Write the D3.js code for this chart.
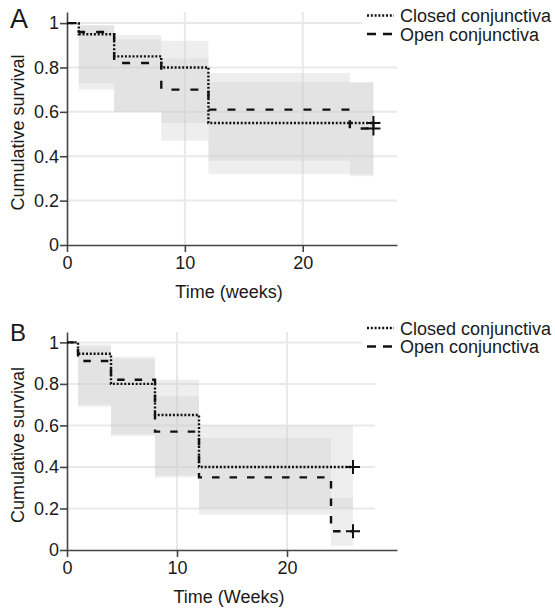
<!DOCTYPE html>
<html>
<head>
<meta charset="utf-8">
<script src="https://cdn.jsdelivr.net/npm/d3@7"></script>
<style>
  body { margin: 0; background: #fff; }
  text { font-family: "Liberation Sans", Arial, sans-serif; fill: #1a1a1a; }
</style>
</head>
<body>
<script>
// step times (weeks), shared by both panels
var timesA = [0, 1, 4, 8, 12, 24, 26];
var timesB = [0, 1, 4, 8, 12, 24, 26];

// panel A: survival estimates
var closedA = [1, 0.95, 0.85, 0.80, 0.55, 0.55, 0.55];
var openA = [1, 0.96, 0.82, 0.70, 0.61, 0.525, 0.525];
// panel A: confidence bands per interval (index i -> times[i]..times[i+1])
var closedLowA = [null, 0.70, 0.60, 0.55, 0.32, 0.32];
var closedHighA = [null, 0.99, 0.946, 0.92, 0.735, 0.735];
var openLowA = [null, 0.73, 0.60, 0.47, 0.38, 0.31];
var openHighA = [null, 0.99, 0.927, 0.84, 0.775, 0.73];

// panel B
var closedB = [1, 0.945, 0.80, 0.65, 0.40, 0.40, 0.40];
var openB = [1, 0.91, 0.82, 0.57, 0.35, 0.09, 0.09];
var closedLowB = [null, 0.70, 0.56, 0.36, 0.20, 0.20];
var closedHighB = [null, 0.99, 0.93, 0.82, 0.60, 0.60];
var openLowB = [null, 0.69, 0.55, 0.35, 0.17, 0.02];
var openHighB = [null, 0.98, 0.92, 0.74, 0.54, 0.25];

var yTicks = [0, 0.2, 0.4, 0.6, 0.8, 1];
var xTicks = [0, 10, 20];
var legendLabels = ["Closed conjunctiva", "Open conjunctiva"];

var dotted = "2,1.8";

var svg = d3.select("body").append("svg").attr("width", 555).attr("height", 610);

function panel(o) {
  var x = d3.scaleLinear().domain([0, o.xMax]).range([67, 397]);
  var y = d3.scaleLinear().domain([0, 1.05]).range([o.bottom, o.top]);
  var g = svg.append("g");

  // grid
  g.selectAll(".hg").data(yTicks.slice(1)).enter().append("line")
    .attr("x1", x(0)).attr("x2", x(o.gridMax))
    .attr("y1", function (d) { return y(d); }).attr("y2", function (d) { return y(d); })
    .attr("stroke", "#e9e9e9").attr("stroke-width", 2);
  g.selectAll(".vg").data(xTicks.slice(1)).enter().append("line")
    .attr("x1", function (d) { return x(d); }).attr("x2", function (d) { return x(d); })
    .attr("y1", y(0)).attr("y2", y(1.05))
    .attr("stroke", "#e9e9e9").attr("stroke-width", 2);

  // confidence bands
  [[o.cLow, o.cHigh], [o.oLow, o.oHigh]].forEach(function (b) {
    for (var i = 1; i < o.times.length - 1; i++) {
      g.append("rect")
        .attr("x", x(o.times[i])).attr("width", x(o.times[i + 1]) - x(o.times[i]))
        .attr("y", y(b[1][i])).attr("height", y(b[0][i]) - y(b[1][i]))
        .attr("fill", "#cdcdcd").attr("fill-opacity", 0.34);
    }
  });

  // legend background (hides top gridline)
  g.append("rect").attr("x", 362).attr("y", o.legY - 20).attr("width", 193).attr("height", 40).attr("fill", "#fff");

  // axes
  var ya = g.append("g").attr("transform", "translate(" + x(0) + ",0)")
    .call(d3.axisLeft(y).tickValues(yTicks).tickSize(7).tickPadding(1).tickSizeOuter(0)
      .tickFormat(function (d) { return String(d); }));
  var xa = g.append("g").attr("transform", "translate(0," + y(0) + ")")
    .call(d3.axisBottom(x).tickValues(xTicks).tickSize(7).tickPadding(4).tickSizeOuter(0));
  [ya, xa].forEach(function (a) {
    a.selectAll("path,line").attr("stroke", "#444").attr("stroke-width", 1.6);
    a.selectAll("text").style("font-size", "18px").attr("fill", "#1a1a1a")
      .style("font-family", "'Liberation Sans', Arial, sans-serif");
  });

  // survival curves
  var line = d3.line().curve(d3.curveStepAfter)
    .x(function (d) { return x(d[0]); }).y(function (d) { return y(d[1]); });
  var series = [
    { s: o.closed, dash: dotted },
    { s: o.open, dash: o.dash }
  ];
  series.forEach(function (c) {
    var pts = o.times.map(function (t, i) { return [t, c.s[i]]; });
    g.append("path").attr("d", line(pts)).attr("fill", "none")
      .attr("stroke", "#111").attr("stroke-width", 2.4).attr("stroke-dasharray", c.dash);
    var last = pts[pts.length - 1];
    g.append("path")
      .attr("d", "M" + (x(last[0]) - 7) + "," + y(last[1]) + "h14M" + x(last[0]) + "," + (y(last[1]) - 7) + "v14")
      .attr("stroke", "#111").attr("stroke-width", 2);
  });

  // labels
  g.append("text").attr("x", 10).attr("y", o.top + o.letterDy).style("font-size", o.letterSize + "px").text(o.letter);
  g.append("text").attr("transform", "translate(24," + ((o.top + o.bottom) / 2 + 4) + ") rotate(-90)")
    .attr("text-anchor", "middle").style("font-size", "18px").text("Cumulative survival");
  g.append("text").attr("x", 229).attr("y", o.bottom + 53).attr("text-anchor", "middle")
    .style("font-size", "18px").text(o.xTitle);

  // legend
  legendLabels.forEach(function (lab, i) {
    var ly = o.legY - 10 + i * o.legStep;
    g.append("line").attr("x1", 367).attr("x2", 394).attr("y1", ly).attr("y2", ly)
      .attr("stroke", "#111").attr("stroke-width", 2.4)
      .attr("stroke-dasharray", i === 0 ? dotted : "9,7");
    g.append("text").attr("x", 400).attr("y", ly + 6.5).style("font-size", "18px").text(lab);
  });
}

panel({
  top: 12, bottom: 245, xMax: 28, gridMax: 28, times: timesA,
  closed: closedA, open: openA,
  cLow: closedLowA, cHigh: closedHighA, oLow: openLowA, oHigh: openHighA,
  dash: "8,11", letter: "A", letterSize: 27, letterDy: 16, xTitle: "Time (weeks)",
  legY: 25.5, legStep: 18.5
});
panel({
  top: 332, bottom: 550, xMax: 30, gridMax: 28, times: timesB,
  closed: closedB, open: openB,
  cLow: closedLowB, cHigh: closedHighB, oLow: openLowB, oHigh: openHighB,
  dash: "7.5,10", letter: "B", letterSize: 24, letterDy: 9, xTitle: "Time (Weeks)",
  legY: 338, legStep: 18.5
});
</script>
</body>
</html>
